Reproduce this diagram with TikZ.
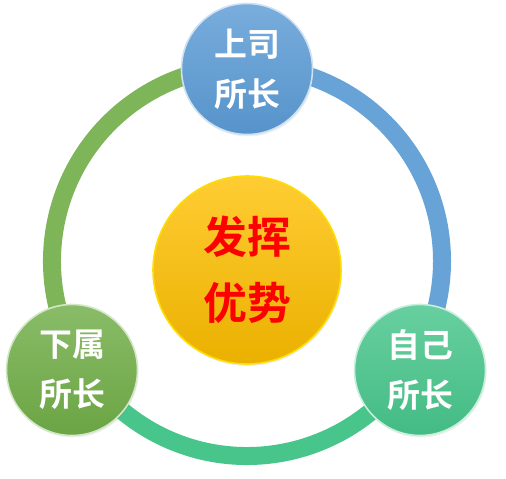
\documentclass[tikz,border=0pt]{standalone}
\usepackage{fontspec}
\newfontfamily\cjk[BoldFont={Noto Sans CJK SC Bold}]{Noto Sans CJK SC}
\usepackage{tikz}
\usetikzlibrary{shadows}
\definecolor{supblue}{HTML}{5B9BD5}
\definecolor{subgreen}{HTML}{70AD47}
\definecolor{selfteal}{HTML}{47C58B}
\definecolor{coregold}{HTML}{FFC000}
\tikzset{
  ball/.style={circle,minimum size=131bp,inner sep=0pt,align=center,
    top color=#1!82!white,bottom color=#1!95!black,
    draw=white!70!#1,line width=1.6bp,text=white,
    font=\cjk\bfseries\fontsize{33}{50}\selectfont,
    drop shadow={shadow xshift=1bp,shadow yshift=-2bp,opacity=0.12}},
  ball/.default={supblue},
  ringarc/.style={line width=18bp,draw=#1},
}

\begin{document}
\begin{tikzpicture}[x=1bp,y=1bp]
  \useasboundingbox (0,0) rectangle (506,-479);
  \coordinate (ringc) at (247,-261);
  % ring
  \draw[ringarc=supblue!92!white] ([shift={(90:195bp)}]ringc) arc[start angle=90,end angle=-32,radius=195bp];
  \draw[ringarc=selfteal] ([shift={(-32:195bp)}]ringc) arc[start angle=-32,end angle=-148,radius=195bp];
  \draw[ringarc=subgreen!90!white] ([shift={(212:195bp)}]ringc) arc[start angle=212,end angle=90,radius=195bp];
  % circles
  \node[ball=supblue] (sup) at (247,-69) {上司\\所长};
  \node[ball=subgreen] (sub) at (72,-370) {下属\\所长};
  \node[ball=selfteal] (self) at (420,-370) {自己\\所长};
  \node[ball=coregold,minimum size=188bp,text=red,draw=yellow!60!coregold,
    top color=coregold!80!white,bottom color=coregold!92!black,
    font=\cjk\bfseries\fontsize{44}{66}\selectfont] (core) at (247,-270) {发挥\\优势};
\end{tikzpicture}
\end{document}
